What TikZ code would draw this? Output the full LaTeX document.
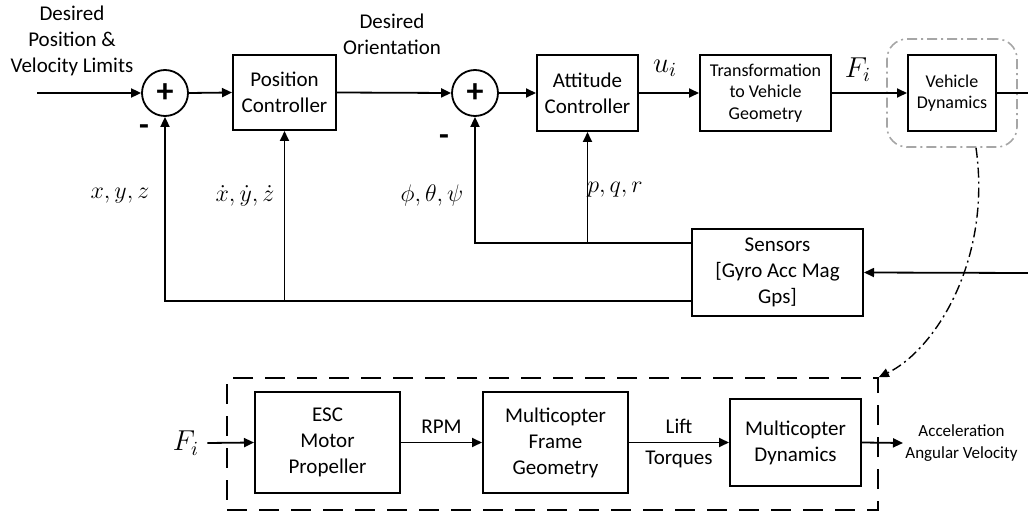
\documentclass[tikz,border=0pt]{standalone}
\usepackage{fontspec}
\setmainfont{Carlito}
\usetikzlibrary{arrows.meta, positioning, fit, shapes.geometric}

\begin{document}
\begin{tikzpicture}[x=0.5pt, y=-0.5pt,
    block/.style={rectangle, draw, line width=1pt, align=center, inner sep=0pt, font=\fontsize{10.5}{13}\selectfont},
    smallblock/.style={block, font=\fontsize{9}{10.75}\selectfont},
    sumnode/.style={circle, draw, line width=0.9pt, minimum size=23pt, inner sep=0pt, font=\fontsize{17}{17}\selectfont\bfseries},
    groupdots/.style={draw=gray!70, line width=0.8pt, rounded corners=10pt, dash pattern=on 5pt off 2pt on 1pt off 2pt},
    lowgroup/.style={draw, line width=0.9pt, dash pattern=on 10pt off 6pt, inner sep=0pt},
    arrow/.style={-{Triangle[length=5pt,width=4.5pt]}, line width=0.9pt},
    line/.style={line width=0.9pt},
    linkarrow/.style={-{Triangle[length=5pt,width=4.5pt]}, line width=0.7pt, dash pattern=on 5pt off 2pt on 1pt off 2pt},
    lbl/.style={font=\fontsize{10.5}{13}\selectfont, align=center, inner sep=1pt},
    minus/.style={font=\fontsize{16}{16}\selectfont\bfseries, inner sep=1pt},
    tinylbl/.style={font=\fontsize{8.5}{11}\selectfont, align=center, inner sep=1pt},
    mlbl/.style={font=\large, inner sep=1pt}
]
\useasboundingbox (0,0) rectangle (1028,513);

%% ── Forward path ─────────────────────────────────────────────────────
\coordinate (in) at (37,93);
\node[sumnode] (sum1) at (165,93) {+};
\node[block, minimum width=51.5pt, minimum height=37.5pt] (posctrl) at (284.5,92.5) {Position\\Controller};
\node[sumnode] (sum2) at (475,93) {+};
\node[block, minimum width=50.5pt, minimum height=38pt] (attctrl) at (587.5,93) {Attitude\\Controller};
\node[smallblock, minimum width=65.5pt, minimum height=38pt] (transf) at (765.5,93) {Transformation\\to Vehicle\\Geometry};
\node[smallblock, minimum width=44pt, minimum height=38pt] (vehdyn) at (952,93) {Vehicle\\Dynamics};
\node[groupdots, fit=(vehdyn), inner xsep=10pt, inner ysep=7.5pt] (vehgroup) {};
\coordinate (out) at (1028,93);

%% ── Sensors / feedback ───────────────────────────────────────────────
\node[block, minimum width=85.5pt, minimum height=43.5pt] (sensors) at (777.5,272.5) {Sensors\\{[}Gyro Acc Mag\\Gps{]}};
\coordinate (sensin) at (1028,273);
\coordinate (fbatt) at ([yshift=14.75pt]sensors.west);
\coordinate (fbpos) at ([yshift=-14.25pt]sensors.west);

%% ── Labels ───────────────────────────────────────────────────────────
\node[lbl] (desired) at (72,41) {Desired\\Position \&\\Velocity Limits};
\node[lbl] (desori) at (392,34) {Desired\\Orientation};
\node[minus] (minus1) at (144,130) {-};
\node[minus] (minus2) at (444,140) {-};
\node[mlbl, font=\Large] (ui) at (665,68) {$u_i$};
\node[mlbl, font=\Large] (fi) at (858,70) {$F_i$};
\node[mlbl] (xyz) at (120,196) {$x,y,z$};
\node[mlbl] (xyzdot) at (245,196) {$\dot{x},\dot{y},\dot{z}$};
\node[mlbl] (euler) at (432,196) {$\phi,\theta,\psi$};
\node[mlbl] (pqr) at (615,190) {$p,q,r$};

%% ── Arrows (upper loop) ──────────────────────────────────────────────
\draw[arrow] (in) -- (sum1.west);
\draw[arrow] (sum1.east) -- (posctrl.west);
\draw[arrow] (posctrl.east) -- (sum2.west);
\draw[arrow] (sum2.east) -- (attctrl.west);
\draw[arrow] (attctrl.east) -- (transf.west);
\draw[arrow] (transf.east) -- (vehdyn.west);
\draw[line] (vehdyn.east) -- (out);
\draw[arrow] (sensin) -- (sensors.east);

\draw[arrow] (fbatt) -| (sum2.south);
\draw[arrow] (attctrl.south |- fbatt) -- (attctrl.south);
\draw[arrow] (fbpos) -| (sum1.south);
\draw[arrow] (posctrl.south |- fbpos) -- (posctrl.south);

%% ── Vehicle dynamics detail ──────────────────────────────────────────
\node[block, minimum width=72.5pt, minimum height=50.5pt] (esc) at (327.5,442.5) {ESC\\Motor\\Propeller};
\node[block, minimum width=72.5pt, minimum height=50.5pt] (frame) at (555.5,442.5) {Multicopter\\Frame\\Geometry};
\node[block, minimum width=65.5pt, minimum height=43.5pt] (mcdyn) at (795.5,442.5) {Multicopter\\Dynamics};
\node[lowgroup, fit={(227,378) (878,510)}] (lowbox) {};

\node[mlbl, font=\Large] (fin) at (186,443) {$F_i$};
\node[tinylbl, anchor=west] (accel) at (903,443) {Acceleration\\Angular Velocity};

\draw[arrow] (fin.east) ++(3pt,0) -- (esc.west);
\draw[arrow] (esc.east) -- node[lbl, above=3pt]{RPM} (frame.west);
\draw[arrow] (frame.east) -- node[lbl, above=3pt]{Lift} node[lbl, below=3pt]{Torques} (mcdyn.west);
\draw[arrow] (mcdyn.east) -- (accel.west);

%% ── Link from vehicle dynamics to detail ─────────────────────────────
\draw[linkarrow] ([xshift=12pt]vehgroup.south) .. controls (992,260) and (935,350) .. (lowbox.north east);

\end{tikzpicture}
\end{document}
